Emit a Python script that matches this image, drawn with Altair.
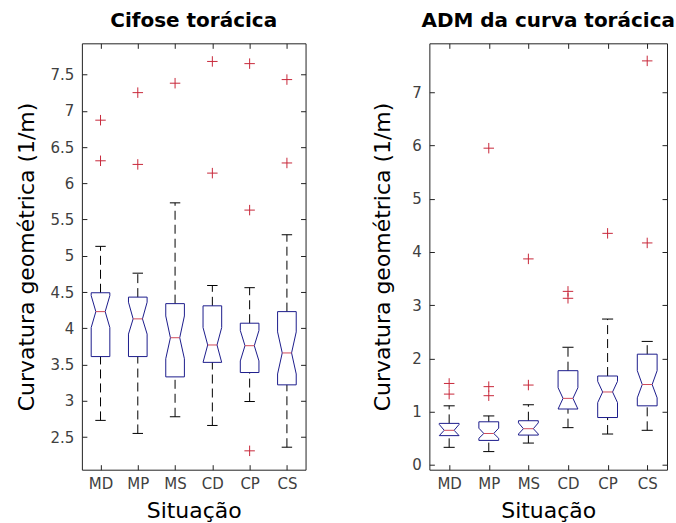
import altair as alt
import pandas as pd

# ---------------- data ----------------
cats = ["MD", "MP", "MS", "CD", "CP", "CS"]

# Cifose torácica
cif_q1 = [3.61, 3.61, 3.33, 3.53, 3.39, 3.22]
cif_med = [4.23, 4.13, 3.87, 3.77, 3.76, 3.66]
cif_q3 = [4.49, 4.43, 4.34, 4.31, 4.07, 4.23]
cif_lo = [2.73, 2.55, 2.78, 2.66, 2.99, 2.36]
cif_hi = [5.13, 4.76, 5.73, 4.59, 4.56, 5.29]
cif_nlo = [4.01, 3.92, 3.58, 3.53, 3.55, 3.37]
cif_nhi = [4.45, 4.36, 4.17, 4.01, 3.97, 3.95]
cif_out = {"MD": [6.87, 6.31], "MP": [7.25, 6.26], "MS": [7.38],
           "CD": [7.68, 6.14], "CP": [7.65, 5.63, 2.31], "CS": [7.43, 6.28]}

# ADM da curva torácica
adm_q1 = [0.55, 0.46, 0.56, 1.05, 0.89, 1.11]
adm_med = [0.65, 0.59, 0.68, 1.25, 1.37, 1.51]
adm_q3 = [0.78, 0.81, 0.83, 1.77, 1.67, 2.08]
adm_lo = [0.33, 0.25, 0.41, 0.70, 0.58, 0.65]
adm_hi = [1.11, 0.92, 1.13, 2.21, 2.74, 2.32]
adm_nlo = [0.55, 0.50, 0.58, 1.05, 1.17, 1.26]
adm_nhi = [0.76, 0.69, 0.79, 1.45, 1.57, 1.77]
adm_out = {"MD": [1.53, 1.33], "MP": [5.95, 1.47, 1.30], "MS": [3.87, 1.50],
           "CD": [3.26, 3.13], "CP": [4.35], "CS": [7.59, 4.17]}

cif_ticks = [2.5, 3, 3.5, 4, 4.5, 5, 5.5, 6, 6.5, 7, 7.5]
adm_ticks = [0, 1, 2, 3, 4, 5, 6, 7]

# ---------------- style ----------------
HALF = 0.25      # half box width (x units)
CAP = 0.14       # half whisker cap width
BLUE = "#1c1c8c"
RED = "#c8283a"
MED_RED = "#d04a5a"
FONT = "DejaVu Sans"
PLUS = "M -1 0 L 1 0 M 0 -1 L 0 1"
label_expr = "[" + ",".join("'%s'" % c for c in cats) + "][round(datum.value) - 1]"


def panel(title, q1, med, q3, lo, hi, nlo, nhi, outs, ydomain, yticks, width, title_pad):
    box_rows = []
    stat_rows = []
    out_rows = []
    for i, c in enumerate(cats):
        p = i + 1
        pts = [(p - HALF, q1[i]), (p - HALF, nlo[i]), (p - HALF / 2, med[i]),
               (p - HALF, nhi[i]), (p - HALF, q3[i]), (p + HALF, q3[i]),
               (p + HALF, nhi[i]), (p + HALF / 2, med[i]), (p + HALF, nlo[i]),
               (p + HALF, q1[i]), (p - HALF, q1[i])]
        for k, (x, y) in enumerate(pts):
            box_rows.append({"cat": c, "k": k, "x": x, "y": y})
        stat_rows.append({"cat": c, "p": p, "q1": q1[i], "med": med[i], "q3": q3[i],
                          "lo": lo[i], "hi": hi[i], "cl": p - CAP, "cr": p + CAP,
                          "ml": p - HALF / 2, "mr": p + HALF / 2})
        for v in outs[c]:
            out_rows.append({"cat": c, "p": p, "v": v})
    box_df = pd.DataFrame(box_rows)
    st = pd.DataFrame(stat_rows)
    od = pd.DataFrame(out_rows)

    xs = alt.Scale(domain=[0.5, 6.5], nice=False, zero=False)
    ys = alt.Scale(domain=ydomain, nice=False, zero=False)

    x_main = alt.Axis(values=list(range(1, 7)), labelExpr=label_expr, title="Situação",
                      orient="bottom", domain=False, grid=False, tickSize=5, offset=-5,
                      labelPadding=7, titlePadding=9)
    y_main = alt.Axis(values=yticks, format="~g", title="Curvatura geométrica (1/m)",
                      orient="left", domain=False, grid=False, tickSize=5, offset=-5,
                      labelPadding=8, titlePadding=title_pad)
    x_top = alt.Axis(values=list(range(1, 7)), labels=False, title=None, orient="top",
                     domain=False, grid=False, tickSize=5, offset=-5)
    y_right = alt.Axis(values=yticks, labels=False, title=None, orient="right",
                       domain=False, grid=False, tickSize=5, offset=-5)

    base_st = alt.Chart(st)
    dash = [9, 5]
    up_wh = base_st.mark_rule(color="black", strokeWidth=1, strokeDash=dash).encode(
        x=alt.X("p:Q", scale=xs, axis=x_main),
        y=alt.Y("q3:Q", scale=ys, axis=y_main),
        y2="hi:Q")
    lo_wh = base_st.mark_rule(color="black", strokeWidth=1, strokeDash=dash).encode(
        x=alt.X("p:Q", scale=xs, axis=None),
        y=alt.Y("lo:Q", scale=ys, axis=None),
        y2="q1:Q")
    up_cap = base_st.mark_rule(color="black", strokeWidth=1).encode(
        x=alt.X("cl:Q", scale=xs, axis=None), x2="cr:Q",
        y=alt.Y("hi:Q", scale=ys, axis=None))
    lo_cap = base_st.mark_rule(color="black", strokeWidth=1).encode(
        x=alt.X("cl:Q", scale=xs, axis=None), x2="cr:Q",
        y=alt.Y("lo:Q", scale=ys, axis=None))
    boxes = alt.Chart(box_df).mark_line(color=BLUE, strokeWidth=1).encode(
        x=alt.X("x:Q", scale=xs, axis=None),
        y=alt.Y("y:Q", scale=ys, axis=None),
        detail="cat:N", order="k:Q")
    medians = base_st.mark_rule(color=MED_RED, strokeWidth=1).encode(
        x=alt.X("ml:Q", scale=xs, axis=None), x2="mr:Q",
        y=alt.Y("med:Q", scale=ys, axis=None))
    outl = alt.Chart(od).mark_point(shape=PLUS, size=110, filled=False, color=RED,
                                    strokeWidth=1, opacity=1).encode(
        x=alt.X("p:Q", scale=xs, axis=x_top),
        y=alt.Y("v:Q", scale=ys, axis=y_right))

    return alt.layer(up_wh, lo_wh, up_cap, lo_cap, boxes, medians, outl).resolve_axis(
        x="independent", y="independent"
    ).properties(width=width, height=427,
                 title=alt.TitleParams(title, font=FONT, fontSize=20, fontWeight="bold",
                                       offset=12, anchor="middle", color="black"))


left = panel("Cifose torácica", cif_q1, cif_med, cif_q3, cif_lo, cif_hi, cif_nlo, cif_nhi,
             cif_out, [2.05, 7.93], cif_ticks, 224, 12)
right = panel("ADM da curva torácica", adm_q1, adm_med, adm_q3, adm_lo, adm_hi, adm_nlo,
              adm_nhi, adm_out, [-0.09, 7.92], adm_ticks, 238, 17)

chart = alt.hconcat(left, right, spacing=64).properties(
    padding={"left": 14, "top": 10, "right": 0, "bottom": 0},
    background="white",
).configure_view(stroke="#222222", strokeWidth=1).configure_axis(
    labelFont=FONT, labelFontSize=15, labelColor="#404040",
    titleFont=FONT, titleFontSize=22, titleFontWeight="normal", titleColor="black",
    tickColor="#222222", tickWidth=1,
)

chart.save("out.html", embed_options={"renderer": "svg", "actions": False})
